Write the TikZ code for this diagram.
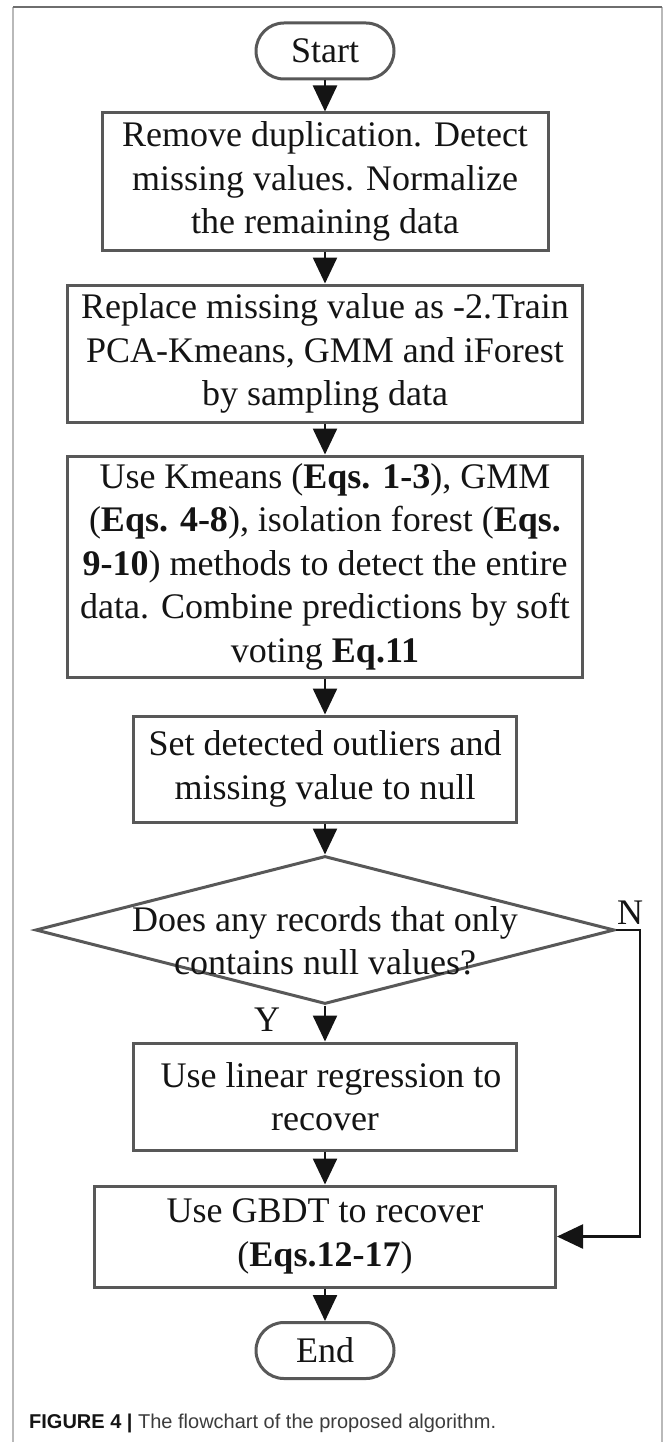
\documentclass[tikz,border=0pt]{standalone}
\usepackage{fontspec}
\setmainfont{Liberation Serif}
\newfontfamily\capfont{Liberation Sans}
\usetikzlibrary{shapes.geometric,arrows.meta}
\definecolor{boxline}{RGB}{88,88,88}
\definecolor{ink}{RGB}{20,20,20}
\definecolor{framelight}{RGB}{185,185,185}
\definecolor{framedark}{RGB}{110,110,110}
\definecolor{capgray}{RGB}{60,60,60}

\begin{document}
\begin{tikzpicture}[x=1pt,y=-1pt,
  every node/.style={text=ink, font=\fontsize{36}{43.5}\selectfont, inner sep=0pt, align=center},
  proc/.style={draw=boxline, line width=3pt, rectangle},
  term/.style={draw=boxline, line width=3pt, rectangle, rounded corners=28pt,
               minimum width=138pt, minimum height=56pt},
  decide/.style={draw=boxline, line width=3pt, diamond},
  flow/.style={draw=ink, line width=2.5pt, -{Triangle[length=26pt,width=24pt]}},
]
\useasboundingbox (0,0) rectangle (663,1442);

% outer frame
\draw[framelight, line width=1.3pt] (13,1442) -- (13,7);
\draw[framelight, line width=1.3pt] (662,7) -- (662,1442);
\draw[framedark, line width=1.3pt] (13,7) -- (662,7);

% flow steps
\node[term] (start) at (325,51) {Start};
\node[proc, minimum width=446pt, minimum height=137pt] (b1) at (325,181.5)
  {Remove duplication. Detect\\missing values. Normalize\\the remaining data};
\node[proc, minimum width=515pt, minimum height=137pt] (b2) at (325,353.5)
  {Replace missing value as -2.Train\\PCA-Kmeans, GMM and iForest\\by sampling data};
\node[proc, minimum width=515pt, minimum height=221pt] (b3) at (325,566.5)
  {Use Kmeans (\textbf{Eqs. 1-3}), GMM\\(\textbf{Eqs. 4-8}), isolation forest (\textbf{Eqs.}\\\textbf{9-10}) methods to detect the entire\\data. Combine predictions by soft\\voting \textbf{Eq.11}};
\node[proc, minimum width=383pt, minimum height=106pt] (b4) at (325,769)
  {Set detected outliers and\\missing value to null};
\node[decide, minimum width=579pt, minimum height=148pt] (dec) at (325,930) {};
\node (dectext) at (325,941) {Does any records that only\\contains null values?};
\node[proc, minimum width=383pt, minimum height=107pt] (b5) at (325,1096.5)
  {\hspace*{12pt}Use linear regression to\\recover};
\node[proc, minimum width=461pt, minimum height=101pt] (b6) at (325,1236.5)
  {Use GBDT to recover\\(\textbf{Eqs.12-17})};
\node[term] (end) at (325,1350.5) {End};

% branch labels
\node (ylab) at (267,1020) {Y};
\node (nlab) at (630,913) {N};
\coordinate (nturn) at (640,930);

% connectors
\draw[flow] (start) -- (b1);
\draw[flow] (b1) -- (b2);
\draw[flow] (b2) -- (b3);
\draw[flow] (b3) -- (b4);
\draw[flow] (b4) -- (dec);
\draw[flow] (dec) -- (b5);
\draw[flow] (b5) -- (b6);
\draw[flow] (b6) -- (end);
\draw[flow] (dec.east) -- (nturn) |- (b6.east);

% caption
\node[anchor=base west, font=\capfont\fontsize{20}{24}\selectfont, text=capgray] (cap) at (29,1428)
  {\textbf{\color{ink}FIGURE 4 |} The flowchart of the proposed algorithm.};
\end{tikzpicture}
\end{document}
